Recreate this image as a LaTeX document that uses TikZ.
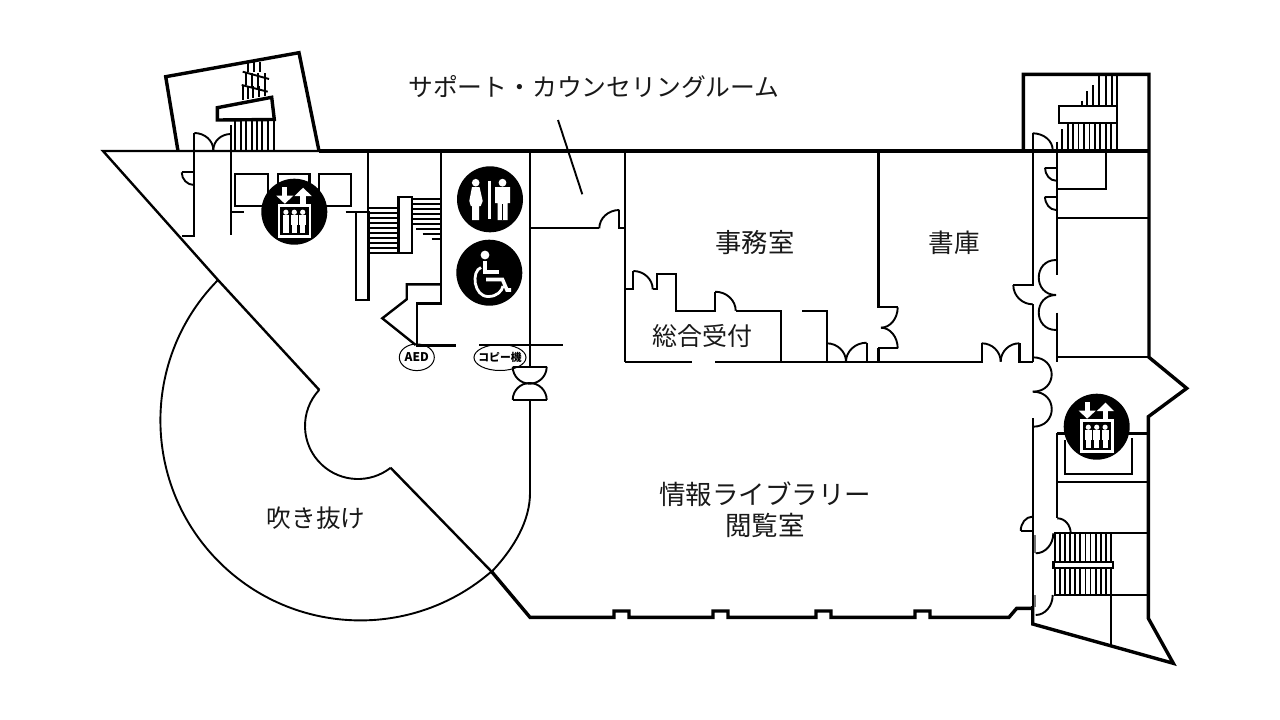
\documentclass[tikz,border=0pt]{standalone}
\usepackage{fontspec}
\newfontfamily\cjk{Noto Sans CJK JP}
\usetikzlibrary{calc,shapes.geometric}
\tikzset{
  hair/.style={line width=1.9pt,black,line cap=butt,line join=miter},
  mid/.style={line width=2.4pt,black,line join=miter},
  wall/.style={line width=3.4pt,black,line join=miter},
  label/.style={font=\cjk\fontsize{26.3}{31}\selectfont,text=black!90,inner sep=0pt,align=center},
  tag/.style={ellipse,draw=black,line width=1pt,inner sep=0pt,fill=none,text=black}
}
\newcommand\qarc[3]{\draw[hair] #1 .. controls ($#1!.55!#2$) and ($#3!.55!#2$) .. #3;}
\newcommand\halfarc[4]{\draw[hair] (#1,#2) .. controls (#3,#2) and (#3,#4) .. (#1,#4);}
\newcommand\elevicon[2]{%
\begin{scope}[shift={(#1,#2)}]
  \fill[black] (0,0) circle[radius=33];
  % down arrow
  \fill[white] (-12,-25) rectangle (-7,-15);
  \fill[white] (-18,-16) -- (-1,-16) -- (-9.5,-8) -- cycle;
  % up arrow
  \fill[white] (6,-16) rectangle (11.5,-8);
  \fill[white] (0,-15.5) -- (17.5,-15.5) -- (8.8,-24) -- cycle;
  \draw[white,line width=2.6pt] (-15.5,-6.5) rectangle (15.5,25);
  \foreach \px in {-8.4,0,8.4}{
    \fill[white] (\px,0.5) circle[radius=2.6];
    \fill[white] (\px-3.4,3) rectangle (\px+3.4,13);
    \fill[white] (\px-2.6,13) rectangle (\px+2.6,21);
  }
\end{scope}}
\begin{document}
\begin{tikzpicture}[x=1pt,y=-1pt]
\useasboundingbox (0,0) rectangle (1280,720);
\fill[white] (0,0) rectangle (1280,720);

% ---------- outer walls
\draw[mid] (319,151) -- (103,151) -- (218,280) -- (319.3,390);
\draw[hair] (358,426) ++(223:53) arc[start angle=223,end angle=52,radius=53];
\draw[mid] (390.6,467.8) -- (491.7,571.7);
\draw[wall] (491.7,571.7) -- (530,617.3) -- (614,617.3) -- (614,611) -- (629,611) -- (629,617.3)
  -- (713,617.3) -- (713,611) -- (728,611) -- (728,617.3)
  -- (816,617.3) -- (816,611) -- (831,611) -- (831,617.3)
  -- (915,617.3) -- (915,611) -- (930,611) -- (930,617.3)
  -- (1009,617.3) -- (1016.7,608.3) -- (1032.7,608.3);
\draw[wall] (319,151) -- (1149,151);
\draw[hair] (218,280) arc[start angle=224.6,end angle=49,radius=200];
\draw[hair] (491.7,571.7) .. controls (515,547) and (530,520) .. (530,493);
% tilted stair room
\draw[wall] (178,151) -- (165.7,76.7) -- (299,52.7) -- (319,151);
\draw[wall] (217.3,107.7) -- (271.7,97.3) -- (274.3,119.5) -- (217.3,120) -- cycle;
\foreach \tx in {235,240.6,246,251.6,256.8,262.3,268,273.6}{\draw[hair] (\tx,121) -- (\tx,151);}
\foreach \tx in {247.7,254,260}{\draw[hair] (\tx,62) -- (\tx,72);}
\foreach \tx/\ty in {245.7/85,251.7/87,258.3/88.5,265/90}{\draw[hair] (\tx,73) -- (\tx,\ty);}
\foreach \tx/\ty in {243.3/100,248.3/99,253.3/98,259/97,265/96}{\draw[hair] (\tx,86) -- (\tx,\ty);}
\draw[hair] (242.7,71.7) -- (269,79);
\draw[hair] (241.7,85) -- (267.7,91.7);

% ---------- left block
\draw[hair] (194.3,133) -- (194.3,235.7) -- (181.7,235.7);
\draw[hair] (231.3,125) -- (231.3,235);
\qarc{(194.3,133)}{(213.3,133)}{(213.3,150)}
\qarc{(230.7,134)}{(213.3,134)}{(213.3,150)}
\draw[hair] (181.7,172.3) -- (194,172.3);
\qarc{(181.7,172.3)}{(181.7,185)}{(194,185)}
\draw[mid] (235,174) rectangle (267.7,205.7);
\draw[mid] (277.7,205) -- (277.7,174) -- (309.3,174) -- (309.3,205);
\draw[mid] (319,174) rectangle (350.7,205.7);
\draw[hair] (231.7,211.7) -- (244,211.7);
\draw[hair] (345.7,211.7) -- (368.3,211.7);
\draw[hair] (368.3,151) -- (368.3,212);
\draw[mid] (356,212) rectangle (368.3,300);

% central stair
\draw[mid] (398.3,196.7) rectangle (411.7,252.7);
\foreach \ty in {208.3,213.3,218.3,223.3,228.3,233.3,238.3,243.3,248.3,252.7}{\draw[hair] (368.3,\ty) -- (398.3,\ty);}
\foreach \ty in {199.3,204.3,209.3,214,219,224}{\draw[hair] (411.7,\ty) -- (440.7,\ty);}
\draw[hair] (416,229) -- (440.7,229);
\draw[hair] (422.7,234) -- (440.7,234);
\draw[hair] (431.7,239) -- (440.7,239);
\draw[mid] (440.7,151) -- (440.7,303.3) -- (416.7,303.3) -- (416.7,345.7);
\draw[mid] (440.7,284.3) -- (406.7,284.3) -- (406.7,299.3) -- (382.3,318.3) -- (415.7,345);
\draw[mid] (415.7,345.4) -- (455.7,345.4);
\draw[hair] (479.3,345) -- (563.3,345);

% ---------- central wall and rooms
\draw[wall,line width=2.7pt] (530,151) -- (530,366.7);
\draw[wall,line width=2.7pt] (530,400) -- (530,493);
\draw[mid] (512.7,366.7) -- (546.7,366.7);
\draw[mid] (512.7,400) -- (546.7,400);
\draw[hair] (512.7,366.7) arc[start angle=180,end angle=0,radius=17];
\draw[hair] (512.7,400) arc[start angle=180,end angle=360,radius=17];
\draw[hair] (530,228.3) -- (599.3,228.3);
\qarc{(599.3,228.3)}{(599.3,210)}{(619.3,210)}
\draw[hair] (619.3,210) -- (619.3,228.3) -- (625,228.3);
\draw[mid] (625,151) -- (625,361.7);
\draw[hair] (625,361.7) -- (691.7,361.7);
\draw[hair] (715,361.7) -- (878.3,361.7);
\draw[hair] (625,289.3) -- (633.3,289.3) -- (633.3,271);
\qarc{(633.3,271)}{(652.7,271)}{(652.7,289.3)}
\draw[hair] (652.7,289.3) -- (657.3,289.3) -- (657.3,274) -- (675.7,274) -- (675.7,310.7) -- (715,310.7) -- (715,291.7);
\qarc{(715,291.7)}{(735.7,291.7)}{(735.7,310.7)}
\draw[hair] (735.7,310.7) -- (781,310.7) -- (781,361.7);
\draw[hair] (802.3,310.7) -- (826.7,310.7) -- (826.7,361.7);
\qarc{(826.7,343.3)}{(846,343.3)}{(846,361.7)}
\qarc{(866.7,342.7)}{(846,342.7)}{(846,361.7)}
\draw[hair] (866.7,342.7) -- (866.7,361.7);
\draw[wall,line width=2.8pt] (878.3,151) -- (878.3,308);
\draw[wall,line width=2.8pt] (878.3,348) -- (878.3,362);
\draw[hair] (878.3,307.3) -- (897.7,307.3);
\qarc{(897.7,307.3)}{(897.7,327.7)}{(881,327.7)}
\qarc{(881,327.7)}{(897.7,327.7)}{(897.7,348.3)}
\draw[hair] (897.7,348.3) -- (878.3,348.3);
\draw[mid] (878.3,361.7) -- (981.7,361.7) -- (981.7,343.3);
\qarc{(981.7,343.3)}{(1000.7,343.3)}{(1000.7,361.7)}
\qarc{(1019.3,343.3)}{(1000.7,343.3)}{(1000.7,361.7)}
\draw[mid] (1019.3,343.3) -- (1019.3,361.7) -- (1032.7,361.7);

% ---------- right block
\draw[wall] (1023.3,151) -- (1023.3,74.3) -- (1149,74.3) -- (1149,357.3) -- (1186.7,388.3) -- (1148.3,416.7) -- (1148.3,618.3) -- (1173.3,663.3) -- (1032.7,624) -- (1032.7,606);
\draw[mid] (1059,106) rectangle (1116.7,122.7);
\foreach \tx in {1067.7,1073.1,1078.5,1084,1089.5,1095,1100.4,1105.9,1111.3,1116.7}{\draw[hair] (\tx,123) -- (\tx,151);}
\draw[hair] (1056.7,141.7) -- (1056.7,151);
\draw[hair] (1062.3,129.3) -- (1062.3,151);
\foreach \tx in {1116.7,1111.7,1106,1099.3}{\draw[hair] (\tx,74.3) -- (\tx,106);}
\draw[hair] (1093.3,85) -- (1093.3,106);
\draw[hair] (1087.3,91) -- (1087.3,106);
\draw[hair] (1081.7,100.7) -- (1081.7,106);
\draw[hair] (1032.7,133.3) -- (1032.7,285) -- (1013.3,285);
\qarc{(1032.7,133.3)}{(1052.7,133.3)}{(1052.7,150)}
\qarc{(1013.3,285)}{(1013.3,304.3)}{(1032.7,304.3)}
\draw[mid] (1032.7,304.3) -- (1032.7,362);
\draw[mid] (1056.7,151) -- (1056.7,275);
\draw[mid] (1056.7,312.7) -- (1056.7,361.7);
\halfarc{1056}{260}{1033}{295}
\halfarc{1056}{295}{1033}{330}
\draw[hair] (1045,167.7) -- (1056,167.7);
\qarc{(1045,167.7)}{(1045,180.7)}{(1056,180.7)}
\draw[hair] (1045,196.7) -- (1056,196.7);
\qarc{(1045,196.7)}{(1045,210)}{(1056,210)}
\draw[hair] (1056.7,189.3) -- (1105.7,189.3) -- (1105.7,151);
\draw[mid] (1056.7,217.7) -- (1149,217.7);
\draw[hair] (1056.7,357.3) -- (1149,357.3);
\halfarc{1032.7}{357.3}{1058}{391.7}
\halfarc{1033}{391.7}{1058}{426.7}
\draw[mid] (1032.7,418.3) -- (1032.7,608);
\draw[mid] (1057.3,433.3) -- (1075,433.3);
\draw[hair] (1057.3,433.3) -- (1057.3,518.3);
\draw[mid] (1125,433.3) -- (1148,433.3);
\draw[mid] (1065,440) -- (1065,474) -- (1131.7,474) -- (1131.7,438);
\draw[hair] (1057.3,482.3) -- (1148,482.3);
\qarc{(1057.3,518.3)}{(1070.7,518.3)}{(1070.7,533.3)}
\draw[hair] (1054.3,533.3) -- (1148,533.3);
\foreach \tx in {1055,1060.1,1065.2,1070.2,1075.3,1080.4,1085.5,1090.5,1095.6,1100.7,1105.7,1110.7}{
  \draw[hair] (\tx,533.3) -- (\tx,561);
  \draw[hair] (\tx,568) -- (\tx,595);
}
\draw[mid] (1053.3,561.7) rectangle (1112.7,567.7);
\draw[hair] (1054.3,595) -- (1148,595);
\draw[hair] (1110.7,595) -- (1110.7,645);
\draw[hair] (1020.7,531) -- (1032.3,531);
\qarc{(1020.7,531)}{(1020.7,516.7)}{(1032.3,516.7)}
\fill[black!55] (1033.5,535) rectangle (1036,553.3);
\fill[black!55] (1033.5,595) rectangle (1036,607);
\qarc{(1035.7,553.3)}{(1053.3,553.3)}{(1053.3,533.3)}
\qarc{(1035.7,615)}{(1052.7,615)}{(1052.7,595)}

% ---------- icons
\elevicon{294.3}{211.7}
\elevicon{1096.7}{426.7}
% toilets
\fill[black] (490,199.3) circle[radius=33];
\fill[white] (475.7,182.7) circle[radius=3.8];
\fill[white] (502.5,182.7) circle[radius=3.9];
\fill[white] (472,187) -- (479.5,187) -- (482.7,201) -- (480.7,206) -- (479,206) -- (479,220) -- (472,220) -- (472,206) -- (470.8,206) -- (469.3,201) -- cycle;
\fill[white] (495,187) -- (510,187) -- (510,203) -- (507.5,203) -- (507.5,220) -- (497.5,220) -- (497.5,203) -- (495,203) -- cycle;
\draw[black,line width=.6pt] (502.5,204) -- (502.5,220);
\draw[white,line width=2.4pt] (489.3,180.7) -- (489.3,219.3);
% wheelchair
\fill[black] (489.3,272.7) circle[radius=33];
\fill[white] (485,255) circle[radius=4.4];
\draw[white,line width=3.6pt] (485,261) -- (485,272) -- (499,272);
\draw[white,line width=3.6pt,line join=miter] (486,279.5) -- (502.5,279.5) -- (507,290) -- (511,290);
\draw[white,line width=2.8pt] (481,267.5) .. controls (471,271) and (473.5,297) .. (488.5,296.5) .. controls (497,296.5) and (502,291) .. (503,286);

% ---------- labels
\node[label,font=\cjk\fontsize{24.8}{31}\selectfont] (lsupport) at (594,87) {サポート・カウンセリングルーム};
\coordinate (leadA) at (558,120);
\coordinate (leadB) at (582.3,194.3);
\draw[hair] (leadA) -- (leadB);
\node[label] (loffice) at (755,243) {事務室};
\node[label,font=\cjk\fontsize{25.6}{31}\selectfont] (lstack) at (954,243) {書庫};
\node[label,font=\cjk\fontsize{25}{31}\selectfont] (lrecept) at (702,336) {総合受付};
\node[label,font=\cjk\fontsize{26.5}{31}\selectfont] (llib) at (765,510) {情報ライブラリー\\閲覧室};
\node[label,font=\cjk\fontsize{24.6}{31}\selectfont] (lvoid) at (316,518) {吹き抜け};
\node[tag,minimum width=35pt,minimum height=26.6pt] (aed) at (416.8,357.3) {};
\node[tag,minimum width=52pt,minimum height=26pt] (copy) at (500,357.5) {};
\node[inner sep=0pt,font=\cjk\bfseries\fontsize{12}{12}\selectfont] (aedtext) at (aed.center) {AED};
\node[inner sep=0pt,font=\cjk\bfseries\fontsize{10.8}{12}\selectfont] (copytext) at (copy.center) {コピー機};
\end{tikzpicture}
\end{document}
